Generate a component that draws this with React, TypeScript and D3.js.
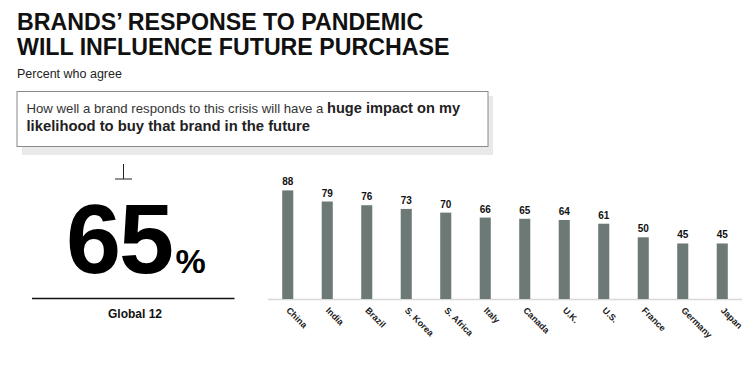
import React from "react";
import * as d3 from "d3";

const countries = ["China", "India", "Brazil", "S. Korea", "S. Africa", "Italy", "Canada", "U.K.", "U.S.", "France", "Germany", "Japan"];
const values = [88, 79, 76, 73, 70, 66, 65, 64, 61, 50, 45, 45];
const globalValue = 65;
const globalLabel = "Global 12";
const titleLines = ["BRANDS\u2019 RESPONSE TO PANDEMIC", "WILL INFLUENCE FUTURE PURCHASE"];
const subtitle = "Percent who agree";
const quoteRegular = "How well a brand responds to this crisis will have a ";
const quoteBold1 = "huge impact on my";
const quoteBold2 = "likelihood to buy that brand in the future";

const W = 750;
const H = 384;
const FONT = "'Liberation Sans', Arial, Helvetica, sans-serif";
const BAR = "#6c7976";

export default function App() {
  const x = d3.scaleBand<string>().domain(countries).range([268, 742]).paddingInner(0.72).paddingOuter(0.36);
  const y = d3.scaleLinear().domain([0, 100]).range([299, 175.6]);
  const base = y(0);

  return (
    <svg width={W} height={H} style={{ position: "absolute", left: 0, top: 0, background: "#fff" }} fontFamily={FONT}>
      <rect x={0} y={0} width={W} height={H} fill="#fff" />
      {titleLines.map((t, i) => (
        <text key={i} x={17} y={29.5 + i * 25.7} fontSize={23.2} fontWeight="bold" fill="#111">{t}</text>
      ))}
      <text x={17} y={77.5} fontSize={12.5} fill="#222">{subtitle}</text>

      {/* quote box */}
      <rect x={22} y={96} width={471} height={59} fill="#e9e9e9" />
      <rect x={17} y={91.5} width={471} height={55} fill="#fff" stroke="#8a8a8a" strokeWidth={1} />
      <text x={26.5} y={112.5} fontSize={13.2} fill="#333">
        {quoteRegular}
        <tspan fontWeight="bold" fontSize={14.6} fill="#222">{quoteBold1}</tspan>
      </text>
      <text x={26.5} y={131} fontSize={14.8} fontWeight="bold" fill="#222">{quoteBold2}</text>

      {/* global */}
      <line x1={123.5} x2={123.5} y1={164} y2={179} stroke="#222" strokeWidth={1} />
      <line x1={115} x2={132} y1={179} y2={179} stroke="#222" strokeWidth={1} />
      <text x={66} y={273} fontSize={99} fontWeight="bold" fill="#000" letterSpacing={-2}>{String(globalValue)}</text>
      <text x={175.5} y={273} fontSize={34} fontWeight="bold" fill="#000">%</text>
      <line x1={32} x2={234.5} y1={298.5} y2={298.5} stroke="#111" strokeWidth={1.5} />
      <text x={135} y={318} fontSize={12} fontWeight="bold" textAnchor="middle" fill="#111">{globalLabel}</text>

      {/* bars */}
      <line x1={268} x2={742} y1={base + 0.5} y2={base + 0.5} stroke="#d8d8d8" strokeWidth={1.5} />
      {countries.map((c, i) => {
        const bx = x(c)!;
        const cx = bx + x.bandwidth() / 2;
        return (
          <g key={c}>
            <rect x={bx} y={y(values[i])} width={x.bandwidth()} height={base - y(values[i])} fill={BAR} />
            <text x={cx} y={y(values[i]) - 5} fontSize={10} fontWeight="bold" textAnchor="middle" fill="#111">{values[i]}</text>
            <text transform={`translate(${cx - 2},${base + 12}) rotate(45)`} fontSize={9} fontWeight="bold" fill="#1a1a1a">{c}</text>
          </g>
        );
      })}
    </svg>
  );
}
